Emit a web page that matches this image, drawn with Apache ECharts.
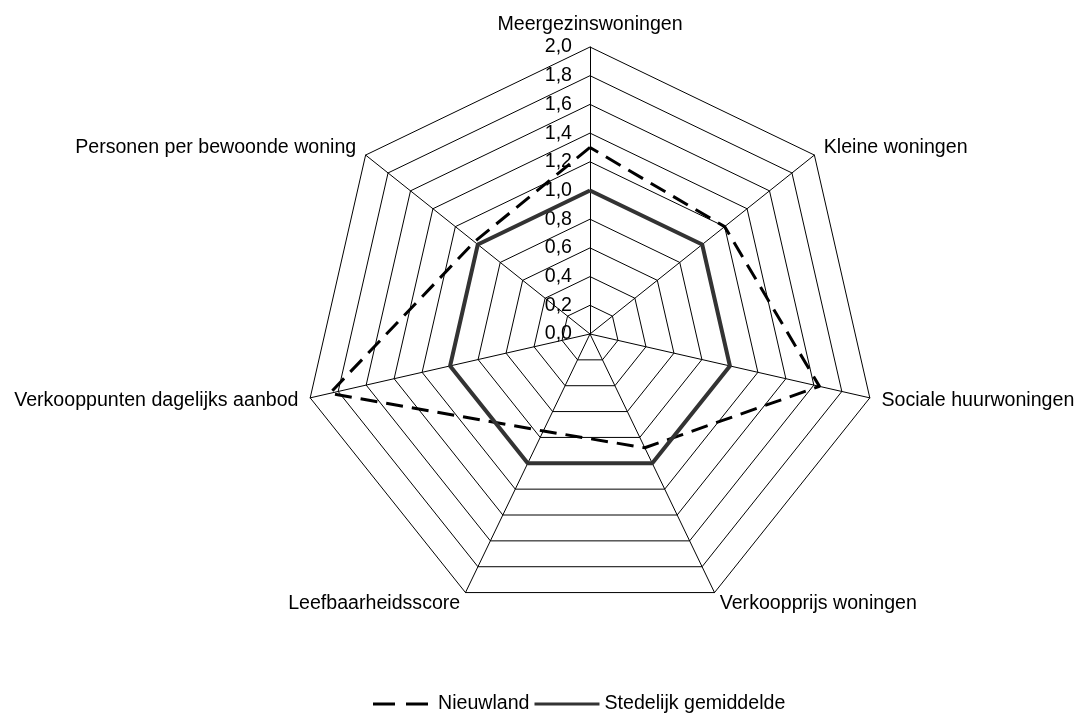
<!DOCTYPE html>
<html>
<head>
<meta charset="utf-8">
<script src="https://cdn.jsdelivr.net/npm/echarts@6/dist/echarts.min.js"></script>
<style>
  html, body { margin: 0; padding: 0; background: #fff; }
  #radar { width: 1077px; height: 719px; }
</style>
</head>
<body>
<div id="radar"></div>
<script>
// indicator order runs counterclockwise from the top, like ECharts draws them
var indicators = [
  "Meergezinswoningen",
  "Personen per bewoonde woning",
  "Verkooppunten dagelijks aanbod",
  "Leefbaarheidsscore",
  "Verkoopprijs woningen",
  "Sociale huurwoningen",
  "Kleine woningen"
];
var nieuwland = [1.3, 1.03, 1.86, 0.75, 0.88, 1.64, 1.2];
var stedelijk = [1.0, 1.0, 1.0, 1.0, 1.0, 1.0, 1.0];
var axisMax = 2.0;

var chart = echarts.init(document.getElementById("radar"));
var font = "'Liberation Sans', Arial, sans-serif";
var fs = 19.6;

var option = {
  animation: false,
  textStyle: { fontFamily: font },
  legend: {
    bottom: 0,
    left: 368,
    itemWidth: 65,
    itemHeight: 3,
    itemGap: 5,
    textStyle: { color: "#000", fontSize: fs, fontFamily: font },
    data: [
      { name: "Nieuwland", icon: "path://M0,0h22v3h-22z M33,0h22v3h-22z" },
      { name: "Stedelijk gemiddelde", icon: "path://M0,0h65v3h-65z" }
    ]
  },
  radar: {
    center: [590, 334],
    radius: 287,
    startAngle: 90,
    shape: "polygon",
    splitNumber: 10,
    nameGap: 12,
    axisName: { color: "#000", fontSize: fs, fontFamily: font },
    indicator: indicators.map(function (n, i) {
      var ind = { name: n, min: 0, max: axisMax };
      if (i === 0) {
        ind.axisLabel = { show: true };
      }
      return ind;
    }),
    axisLine: { lineStyle: { color: "#000", width: 1 } },
    splitLine: { lineStyle: { color: "#000", width: 1 } },
    splitArea: { show: false },
    axisTick: { show: false },
    axisLabel: {
      show: false,
      color: "#000",
      fontSize: fs,
      fontFamily: font,
      margin: 18,
      showMinLabel: true,
      showMaxLabel: true,
      formatter: function (v) { return v.toFixed(1).replace(".", ","); }
    }
  },
  series: [
    {
      type: "radar",
      symbol: "none",
      data: [
        {
          name: "Nieuwland",
          value: nieuwland,
          itemStyle: { color: "#000" },
          lineStyle: { color: "#000", width: 3, type: [17, 9] }
        },
        {
          name: "Stedelijk gemiddelde",
          value: stedelijk,
          itemStyle: { color: "#333" },
          lineStyle: { color: "#333", width: 4, type: "solid" }
        }
      ]
    }
  ]
};
chart.setOption(option);
</script>
</body>
</html>
